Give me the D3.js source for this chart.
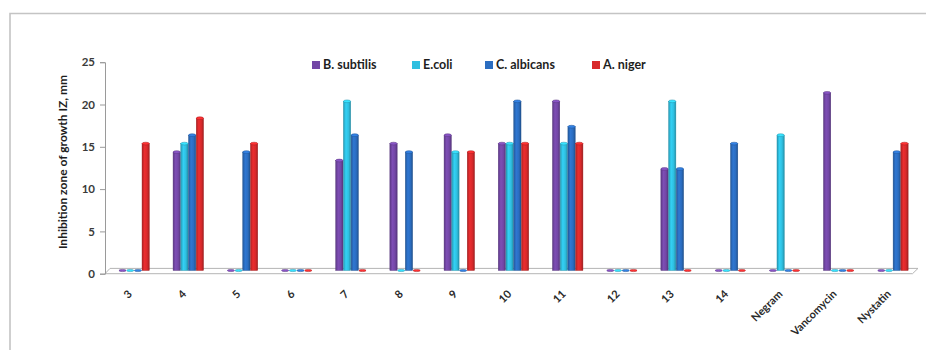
<!DOCTYPE html>
<html>
<head>
<meta charset="utf-8">
<script src="https://cdn.jsdelivr.net/npm/d3@7"></script>
<style>
  html, body { margin: 0; padding: 0; background: #fff; }
  svg { display: block; font-family: Lato, "Open Sans", sans-serif; }
</style>
</head>
<body>
<svg id="chart" width="927" height="350"></svg>
<script>
// Compounds / reference drugs tested
const categories = ["3", "4", "5", "6", "7", "8", "9", "10", "11", "12", "13", "14", "Negram", "Vancomycin", "Nystatin"];
// Test organisms
const seriesNames = ["B. subtilis", "E.coli", "C. albicans", "A. niger"];
const seriesColors = ["#7347a6", "#2fbfe0", "#2b6dc0", "#d8292b"];
// Inhibition zones (mm) per organism, one value per category
const bSubtilis = [0, 14, 0, 0, 13, 15, 16, 15, 20, 0, 12, 0, 0, 21, 0];
const eColi     = [0, 15, 0, 0, 20, 0, 14, 15, 15, 0, 20, 0, 16, 0, 0];
const cAlbicans = [0, 16, 14, 0, 16, 14, 0, 20, 17, 0, 12, 15, 0, 0, 14];
const aNiger    = [15, 18, 15, 0, 0, 0, 14, 15, 15, 0, 0, 0, 0, 0, 15];
const yTicks = [0, 5, 10, 15, 20, 25];

const seriesValues = [bSubtilis, eColi, cAlbicans, aNiger];

const svg = d3.select("#chart");
const defs = svg.append("defs");

// Outer frame (top and left edges)
svg.append("path")
  .attr("d", "M10,350 V13.5 H926")
  .attr("fill", "none").attr("stroke", "#c4c4c4").attr("stroke-width", 1.6);

const x0 = d3.scaleBand().domain(categories).range([107, 920]).paddingInner(0.43).paddingOuter(0.215);
const x1 = d3.scaleBand().domain(seriesNames).range([0, x0.bandwidth()]);
const y = d3.scaleLinear().domain([0, 25]).range([273.7, 62.2]);
const depth = 3.2; // bars stand on the middle of the floor slab

// Cylinder shading gradients
seriesColors.forEach((c, i) => {
  const g = defs.append("linearGradient").attr("id", "cyl" + i)
    .attr("x1", "0%").attr("x2", "100%").attr("y1", "0%").attr("y2", "0%");
  const base = d3.color(c);
  g.append("stop").attr("offset", "0%").attr("stop-color", base.darker(0.6));
  g.append("stop").attr("offset", "35%").attr("stop-color", base.brighter(0.25));
  g.append("stop").attr("offset", "70%").attr("stop-color", base);
  g.append("stop").attr("offset", "100%").attr("stop-color", base.darker(0.8));
});

// Floor slab
svg.append("path")
  .attr("d", `M105,${y(0)} L110,${y(0) - 5.3} L918,${y(0) - 5.3} L912.5,${y(0)} Z`)
  .attr("fill", "#fff").attr("stroke", "#b5b5b5").attr("stroke-width", 1);

// Y axis
const yAxis = d3.axisLeft(y).tickValues(yTicks).tickSize(5).tickPadding(5);
const ya = svg.append("g").attr("transform", "translate(105,0)").call(yAxis);
ya.select(".domain").attr("stroke", "#9a9a9a");
ya.selectAll(".tick line").attr("stroke", "#9a9a9a");
ya.selectAll(".tick text").attr("font-family", "Lato, sans-serif").attr("font-size", 11.5)
  .attr("font-weight", "bold").attr("fill", "#3a3a3a");

svg.append("text")
  .attr("transform", "translate(67,162) rotate(-90)")
  .attr("text-anchor", "middle")
  .attr("font-size", 12).attr("font-weight", "bold").attr("fill", "#1e1e1e")
  .text("Inhibition zone of growth IZ, mm");

// Bars
const rows = categories.map((cat, ci) => ({ cat, vals: seriesValues.map((s, si) => ({ name: seriesNames[si], si, v: s[ci] })) }));
const groups = svg.append("g").selectAll("g").data(rows).join("g")
  .attr("transform", d => `translate(${x0(d.cat)},0)`);

const bw = x1.bandwidth();
const bar = groups.selectAll("g").data(d => d.vals).join("g")
  .attr("transform", d => `translate(${x1(d.name)},0)`);

bar.filter(d => d.v > 0).append("rect")
  .attr("x", 0.2).attr("width", bw - 0.4)
  .attr("y", d => y(d.v) - depth)
  .attr("height", d => y(0) - y(d.v))
  .attr("fill", d => `url(#cyl${d.si})`)
  .attr("stroke", d => d3.color(seriesColors[d.si]).darker(0.9)).attr("stroke-width", 0.4);

// Cylinder caps (zero values show only a flat disc)
bar.append("ellipse")
  .attr("cx", bw / 2)
  .attr("cy", d => y(d.v) - depth)
  .attr("rx", bw / 2 - 0.3).attr("ry", d => d.v > 0 ? 1.4 : 1.1)
  .attr("fill", d => d3.color(seriesColors[d.si]).brighter(0.5))
  .attr("stroke", d => d3.color(seriesColors[d.si]).darker(0.7)).attr("stroke-width", 0.5);

// Category labels
svg.append("g").selectAll("text").data(categories).join("text")
  .attr("transform", d => `translate(${x0(d) + x0.bandwidth() / 2 - 4},${292}) rotate(-45)`)
  .attr("text-anchor", "end")
  .attr("dy", "0.35em")
  .attr("font-size", 11).attr("font-weight", "bold").attr("fill", "#2a2a2a")
  .text(d => d);

// Legend
const legendX = [312, 412, 485, 592];
const legend = svg.append("g").selectAll("g").data(seriesNames).join("g")
  .attr("transform", (d, i) => `translate(${legendX[i]},65)`);
legend.append("rect").attr("x", 0).attr("y", -4).attr("width", 8).attr("height", 8)
  .attr("fill", (d, i) => seriesColors[i]);
legend.append("text").attr("x", 11).attr("dy", "0.35em")
  .attr("font-size", 12.5).attr("font-weight", "bold").attr("fill", "#1e1e1e")
  .text(d => d);
</script>
</body>
</html>
